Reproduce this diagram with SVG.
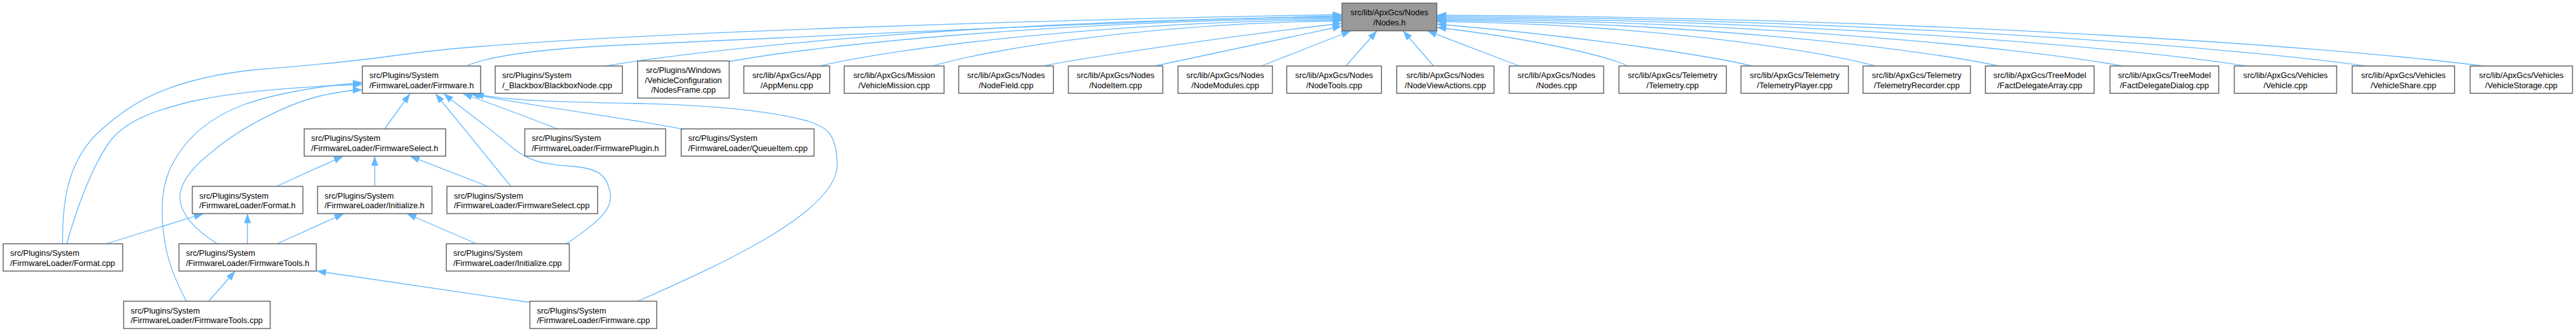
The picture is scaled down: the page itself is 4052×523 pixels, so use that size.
<svg xmlns="http://www.w3.org/2000/svg" width="4052" height="523" viewBox="0 0 4052 523">
<style>
.box{fill:#ffffff;stroke:#666666;stroke-width:1.5}
.root{fill:#999999;stroke:#666666;stroke-width:1.5}
text{font-family:"Liberation Sans",Arial,sans-serif;font-size:12.8px;fill:#000000}
.c{text-anchor:middle}
.e{fill:none;stroke:#63b8ff;stroke-width:1.3;marker-end:url(#ah)}
</style>
<defs>
<marker id="ah" viewBox="0 0 15 11" refX="15" refY="5.5" markerWidth="15" markerHeight="11" markerUnits="userSpaceOnUse" orient="auto"><path d="M0,0 L15,5.5 L0,11 z" fill="#63b8ff"/></marker>
</defs>
<rect x="0" y="0" width="4052" height="523" fill="#ffffff"/>
<g id="edges">
<path class="e" d="M98.5,384 C98,320 105,260 150,213 C200,165 260,125 400,110 C520,100 570,95 640,85 C900,50 1800,28 2111,23"/>
<path class="e" d="M733,104 C770,88 850,76 1000,70 C1400,52 1800,32 2111,25"/>
<path class="e" d="M953,104 C1126.7,73.6 1589.9,30 2111,27"/>
<path class="e" d="M1147,97 C1291.6,70 1677.2,32 2111,29"/>
<path class="e" d="M1290,104 C1413,74.8 1741.6,34 2111,31"/>
<path class="e" d="M1467,104 C1563.6,75.4 1821,36 2111,33"/>
<path class="e" d="M1641,104 C1700,92 1950,54 2111,37"/>
<path class="e" d="M1816,104 C1880,90 2000,65 2111,41"/>
<path class="e" d="M1984,104 L2125,48.5"/>
<path class="e" d="M2117,104 L2166,48.5"/>
<path class="e" d="M2255,104 L2207,48.5"/>
<path class="e" d="M2390,104 L2245,48.5"/>
<path class="e" d="M2561,104 C2520,85 2400,60 2260,43"/>
<path class="e" d="M2756,104 C2700,90 2500,58 2260,38"/>
<path class="e" d="M2950,104 C2846.5,76 2570.5,37 2260,34"/>
<path class="e" d="M3144,104 C3011.4,75.2 2657.8,35 2260,32"/>
<path class="e" d="M3339,104 C3177.2,74.4 2745.6,33 2260,30"/>
<path class="e" d="M3533,104 C3342,73.6 2832.9,31 2260,28"/>
<path class="e" d="M3721,104 C3501.9,72.8 2917.5,29 2260,26"/>
<path class="e" d="M3906,104 C3659.1,72 3000.7,27 2260,24"/>
<path class="e" d="M605,203 L645,147.5"/>
<path class="e" d="M803.6,293.5 L685,147.5"/>
<path class="e" d="M891,384 C925,360 965,335 960,305 C955,275 940,265 900,262 C850,259 830,252 805,232 C775,205 725,170 698,147.5"/>
<path class="e" d="M877,203 C830,185 770,162 728,147.5"/>
<path class="e" d="M1074,203.5 C1000,188 820,165 740,147.5"/>
<path class="e" d="M1003,474.5 C1150,410 1320,330 1317,257 C1315,215 1305,200 1268,190 C1200,172 1100,165 1000,163 C880,161 790,158 746,147.5"/>
<path class="e" d="M341.7,384 C310,364 285,340 283,313 C282,290 300,265 335,238 C380,200 450,165 500,152 C530,145 550,142 570,141.5"/>
<path class="e" d="M293.3,474.5 C280,450 266,420 260,385 C253,345 252,300 268,265 C290,218 330,185 383,165 C440,145 510,135 570,130"/>
<path class="e" d="M105,384 C120,330 145,260 175,220 C200,190 240,175 300,160 C380,142 480,136 570,133"/>
<path class="e" d="M435,293.5 L540,246"/>
<path class="e" d="M589.5,293.5 L589.5,246"/>
<path class="e" d="M767,293.5 L645,246"/>
<path class="e" d="M167,384 L320,336.5"/>
<path class="e" d="M389.3,384 L389.3,336.5"/>
<path class="e" d="M436,384 L541,336.5"/>
<path class="e" d="M749.6,384 L640,336.5"/>
<path class="e" d="M328.3,474.5 L370,427"/>
<path class="e" d="M834,476.5 L498,427"/>
</g>
<g id="n_nodes_h"><rect class="root" x="2111" y="5" width="149" height="43.5"/><text class="c" x="2185.5" y="24">src/lib/ApxGcs/Nodes</text><text class="c" x="2185.5" y="39.7">/Nodes.h</text></g>
<g id="n_firmware_h"><rect class="box" x="570" y="104" width="186" height="43"/><text x="581" y="123">src/Plugins/System</text><text x="581" y="138.7">/FirmwareLoader/Firmware.h</text></g>
<g id="n_blackbox"><rect class="box" x="779" y="104" width="200" height="43"/><text x="790" y="123">src/Plugins/System</text><text x="790" y="138.7">/_Blackbox/BlackboxNode.cpp</text></g>
<g id="n_nodesframe"><rect class="box" x="1003" y="96" width="144" height="58.5"/><text class="c" x="1075" y="115">src/Plugins/Windows</text><text class="c" x="1075" y="130.7">/VehicleConfiguration</text><text class="c" x="1075" y="146.4">/NodesFrame.cpp</text></g>
<g id="n_appmenu"><rect class="box" x="1170" y="104" width="135" height="43"/><text class="c" x="1237.5" y="123">src/lib/ApxGcs/App</text><text class="c" x="1237.5" y="138.7">/AppMenu.cpp</text></g>
<g id="n_vehiclemission"><rect class="box" x="1328" y="104" width="157" height="43"/><text class="c" x="1406.5" y="123">src/lib/ApxGcs/Mission</text><text class="c" x="1406.5" y="138.7">/VehicleMission.cpp</text></g>
<g id="n_nodefield"><rect class="box" x="1508" y="104" width="149" height="43"/><text class="c" x="1582.5" y="123">src/lib/ApxGcs/Nodes</text><text class="c" x="1582.5" y="138.7">/NodeField.cpp</text></g>
<g id="n_nodeitem"><rect class="box" x="1680.5" y="104" width="148.5" height="43"/><text class="c" x="1754.75" y="123">src/lib/ApxGcs/Nodes</text><text class="c" x="1754.75" y="138.7">/NodeItem.cpp</text></g>
<g id="n_nodemodules"><rect class="box" x="1853" y="104" width="148.5" height="43"/><text class="c" x="1927.25" y="123">src/lib/ApxGcs/Nodes</text><text class="c" x="1927.25" y="138.7">/NodeModules.cpp</text></g>
<g id="n_nodetools"><rect class="box" x="2024" y="104" width="149" height="43"/><text class="c" x="2098.5" y="123">src/lib/ApxGcs/Nodes</text><text class="c" x="2098.5" y="138.7">/NodeTools.cpp</text></g>
<g id="n_nodeviewactions"><rect class="box" x="2197" y="104" width="153" height="43"/><text class="c" x="2273.5" y="123">src/lib/ApxGcs/Nodes</text><text class="c" x="2273.5" y="138.7">/NodeViewActions.cpp</text></g>
<g id="n_nodes_cpp"><rect class="box" x="2374" y="104" width="148.5" height="43"/><text class="c" x="2448.25" y="123">src/lib/ApxGcs/Nodes</text><text class="c" x="2448.25" y="138.7">/Nodes.cpp</text></g>
<g id="n_telemetry"><rect class="box" x="2546.5" y="104" width="169" height="43"/><text class="c" x="2631" y="123">src/lib/ApxGcs/Telemetry</text><text class="c" x="2631" y="138.7">/Telemetry.cpp</text></g>
<g id="n_telemetryplayer"><rect class="box" x="2738.5" y="104" width="169" height="43"/><text class="c" x="2823" y="123">src/lib/ApxGcs/Telemetry</text><text class="c" x="2823" y="138.7">/TelemetryPlayer.cpp</text></g>
<g id="n_telemetryrecorder"><rect class="box" x="2930.5" y="104" width="169" height="43"/><text class="c" x="3015" y="123">src/lib/ApxGcs/Telemetry</text><text class="c" x="3015" y="138.7">/TelemetryRecorder.cpp</text></g>
<g id="n_factarray"><rect class="box" x="3123" y="104" width="171" height="43"/><text class="c" x="3208.5" y="123">src/lib/ApxGcs/TreeModel</text><text class="c" x="3208.5" y="138.7">/FactDelegateArray.cpp</text></g>
<g id="n_factdialog"><rect class="box" x="3319" y="104" width="171" height="43"/><text class="c" x="3404.5" y="123">src/lib/ApxGcs/TreeModel</text><text class="c" x="3404.5" y="138.7">/FactDelegateDialog.cpp</text></g>
<g id="n_vehicle"><rect class="box" x="3514.5" y="104" width="161" height="43"/><text class="c" x="3595" y="123">src/lib/ApxGcs/Vehicles</text><text class="c" x="3595" y="138.7">/Vehicle.cpp</text></g>
<g id="n_vehicleshare"><rect class="box" x="3700" y="104" width="161" height="43"/><text class="c" x="3780.5" y="123">src/lib/ApxGcs/Vehicles</text><text class="c" x="3780.5" y="138.7">/VehicleShare.cpp</text></g>
<g id="n_vehiclestorage"><rect class="box" x="3885.5" y="104" width="161" height="43"/><text class="c" x="3966" y="123">src/lib/ApxGcs/Vehicles</text><text class="c" x="3966" y="138.7">/VehicleStorage.cpp</text></g>
<g id="n_fwselect_h"><rect class="box" x="478.5" y="203" width="222.5" height="43"/><text x="489.5" y="222">src/Plugins/System</text><text x="489.5" y="237.7">/FirmwareLoader/FirmwareSelect.h</text></g>
<g id="n_fwplugin_h"><rect class="box" x="825.5" y="203" width="221.5" height="43"/><text x="836.5" y="222">src/Plugins/System</text><text x="836.5" y="237.7">/FirmwareLoader/FirmwarePlugin.h</text></g>
<g id="n_queueitem"><rect class="box" x="1071.5" y="203" width="209" height="43"/><text x="1082.5" y="222">src/Plugins/System</text><text x="1082.5" y="237.7">/FirmwareLoader/QueueItem.cpp</text></g>
<g id="n_format_h"><rect class="box" x="302.5" y="293.5" width="174" height="43"/><text x="313.5" y="312.5">src/Plugins/System</text><text x="313.5" y="328.2">/FirmwareLoader/Format.h</text></g>
<g id="n_initialize_h"><rect class="box" x="499.5" y="293.5" width="180" height="43"/><text x="510.5" y="312.5">src/Plugins/System</text><text x="510.5" y="328.2">/FirmwareLoader/Initialize.h</text></g>
<g id="n_fwselect_cpp"><rect class="box" x="703" y="293.5" width="237" height="43"/><text x="714" y="312.5">src/Plugins/System</text><text x="714" y="328.2">/FirmwareLoader/FirmwareSelect.cpp</text></g>
<g id="n_format_cpp"><rect class="box" x="5" y="384" width="188" height="43"/><text x="16" y="403">src/Plugins/System</text><text x="16" y="418.7">/FirmwareLoader/Format.cpp</text></g>
<g id="n_fwtools_h"><rect class="box" x="281.5" y="384" width="216" height="43"/><text x="292.5" y="403">src/Plugins/System</text><text x="292.5" y="418.7">/FirmwareLoader/FirmwareTools.h</text></g>
<g id="n_initialize_cpp"><rect class="box" x="702" y="384" width="193.5" height="43"/><text x="713" y="403">src/Plugins/System</text><text x="713" y="418.7">/FirmwareLoader/Initialize.cpp</text></g>
<g id="n_fwtools_cpp"><rect class="box" x="194.5" y="474.5" width="230.5" height="43"/><text x="205.5" y="493.5">src/Plugins/System</text><text x="205.5" y="509.2">/FirmwareLoader/FirmwareTools.cpp</text></g>
<g id="n_firmware_cpp"><rect class="box" x="833.5" y="474.5" width="199.5" height="43"/><text x="844.5" y="493.5">src/Plugins/System</text><text x="844.5" y="509.2">/FirmwareLoader/Firmware.cpp</text></g>
</svg>
